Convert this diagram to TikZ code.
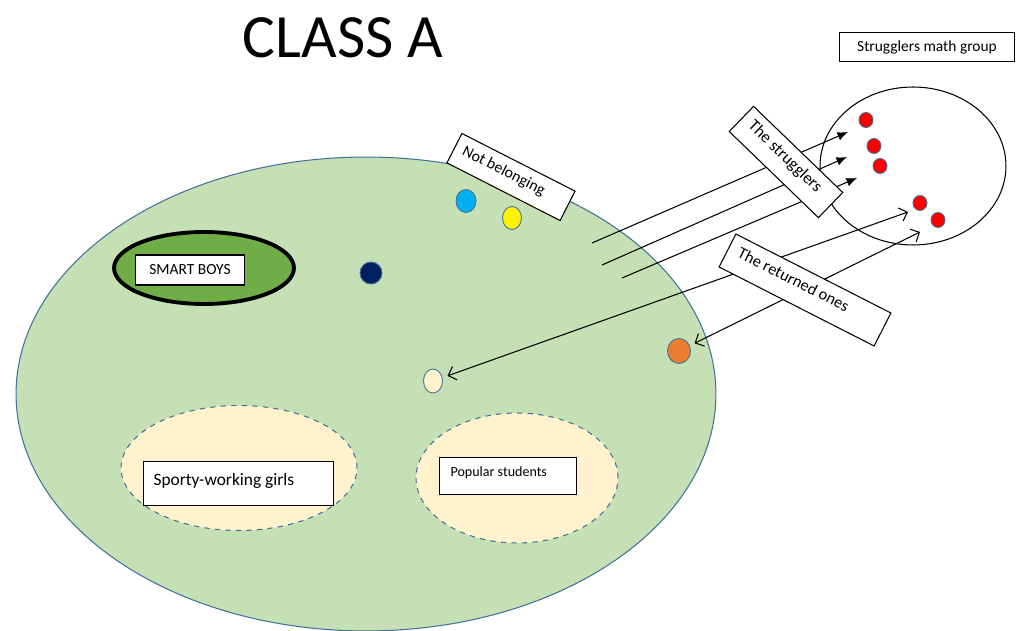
\documentclass[tikz,border=0pt]{standalone}
\usepackage{fontspec}
\setmainfont{Carlito}
\usetikzlibrary{shapes,arrows.meta}

\definecolor{classgreen}{HTML}{C5E0B4}
\definecolor{smartgreen}{HTML}{70AD47}
\definecolor{groupyellow}{HTML}{FFF2CC}
\definecolor{edgeblue}{HTML}{41719C}
\definecolor{dotblue}{HTML}{00B0F0}
\definecolor{navy}{HTML}{002060}
\definecolor{orange}{HTML}{ED7D31}

\begin{document}
\begin{tikzpicture}[x=0.02cm,y=-0.02cm,line width=0.6pt,
    box/.style={draw=black,fill=white,line width=0.6pt,inner sep=0pt},
    tag/.style={box,align=flush left,inner ysep=0pt},
    group/.style={ellipse,draw=edgeblue,dashed,fill=groupyellow,inner sep=0pt},
    dot/.style={ellipse,draw=edgeblue,line width=0.5pt,inner sep=0pt,
                minimum width=0.4cm,minimum height=0.46cm},
    reddot/.style={dot,fill=red,minimum width=0.28cm,minimum height=0.3cm}]
    \useasboundingbox (0,0) rectangle (1019,631);
    \node (title) at (343,38) {\fontsize{35}{40}\selectfont CLASS A};
    % the class
    \node[ellipse,draw=edgeblue,fill=classgreen,inner sep=0pt,
          minimum width=14cm,minimum height=9.48cm] (class) at (366,394) {};
    \node[ellipse,draw=black,line width=2.2pt,fill=smartgreen,inner sep=0pt,
          minimum width=3.6cm,minimum height=1.44cm] (smart) at (204,268) {};
    \node[box,minimum width=2.18cm,minimum height=0.6cm,font=\fontsize{8.8}{10}\selectfont]
          (smartbox) at (190,270) {SMART BOYS};
    \node[group,minimum width=4.72cm,minimum height=2.5cm] (sporty) at (239,468) {};
    \node[tag,anchor=north west,inner xsep=0.2cm,text width=3.4cm,text height=0.48cm,
          text depth=0.4cm,font=\fontsize{9.9}{11}\selectfont] (sportybox) at (143,461)
          {Sporty-working girls};
    \node[group,minimum width=4.04cm,minimum height=2.6cm] (popular) at (517,478) {};
    \node[tag,anchor=north west,inner xsep=0.22cm,text width=2.3cm,text height=0.38cm,
          text depth=0.36cm,font=\fontsize{8}{9}\selectfont] (popularbox) at (439,457)
          {Popular students};
    \node[dot,fill=dotblue] (nb1) at (466,201) {};
    \node[dot,fill=yellow,minimum width=0.38cm] (nb2) at (512,218) {};
    \node[dot,fill=navy,minimum width=0.44cm,minimum height=0.44cm] (mid) at (371,273) {};
    \node[dot,fill=groupyellow,minimum width=0.38cm,minimum height=0.48cm] (ret1) at (433,381) {};
    \node[dot,fill=orange,minimum width=0.46cm,minimum height=0.5cm] (ret2) at (679,351) {};
    % the math group
    \node[ellipse,draw=black,fill=white,inner sep=0pt,
          minimum width=3.72cm,minimum height=3.16cm] (math) at (913,166) {};
    \node[reddot] (r1) at (866,120) {};
    \node[reddot] (r2) at (874,146) {};
    \node[reddot] (r3) at (880,166) {};
    \node[reddot] (r4) at (920,203) {};
    \node[reddot] (r5) at (938,220) {};
    \node[box,minimum width=3.5cm,minimum height=0.58cm,font=\fontsize{8.8}{10}\selectfont]
          (mathbox) at (927,47) {Strugglers math group};
    % arrows
    \coordinate (s1) at (592,243);
    \coordinate (s2) at (602,265);
    \coordinate (s3) at (622,278);
    \coordinate (t1) at (848,132);
    \coordinate (t2) at (847,157);
    \coordinate (t3) at (857,178);
    \coordinate (u1) at (908,212);
    \coordinate (u2) at (920,232);
    \path[-{Latex[length=6pt,width=5pt]}]
    (s1) edge (t1)
    (s2) edge (t2)
    (s3) edge (t3);
    \path[{Straight Barb[length=4pt,width=8pt]}-{Straight Barb[length=4pt,width=8pt]},shorten <=3pt]
    (ret1) edge (u1)
    (ret2) edge (u2);
    % labels on top
    \node[tag,rotate=-27,inner xsep=0.18cm,text width=2.18cm,text height=0.38cm,
          text depth=0.28cm,font=\fontsize{9}{10}\selectfont] (notbel) at (511,177)
          {Not belonging};
    \node[tag,rotate=-44,inner xsep=0.2cm,text width=2.08cm,text height=0.38cm,
          text depth=0.32cm,font=\fontsize{9.5}{10}\selectfont] (strug) at (786,162)
          {The strugglers};
    \node[tag,rotate=-27,inner xsep=0.22cm,text width=3.04cm,text height=0.4cm,
          text depth=0.34cm,font=\fontsize{9.3}{10}\selectfont] (returned) at (805,290)
          {The returned ones};
\end{tikzpicture}
\end{document}
